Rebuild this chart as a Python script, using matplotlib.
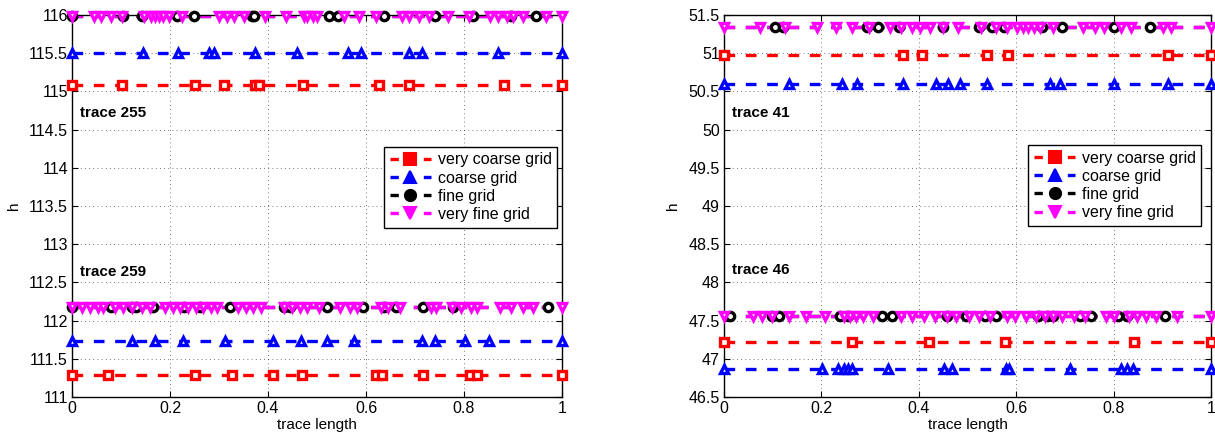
import matplotlib
matplotlib.use("Agg")
import matplotlib.pyplot as plt
import numpy as np

plt.rcParams["font.family"] = ["Liberation Sans", "DejaVu Sans"]

# ---------------------------------------------------------------------------
# data (x = normalised trace length, h levels)
# ---------------------------------------------------------------------------
LABELS = ["very coarse grid", "coarse grid", "fine grid", "very fine grid"]

# left panel, trace 255 (upper group)
h255 = [115.09, 115.50, 115.99, 115.99]
x255_vc = [0, 0.102, 0.25, 0.311, 0.374, 0.382, 0.472, 0.626, 0.687, 0.881, 1.0]
x255_c = [0, 0.144, 0.216, 0.28, 0.29, 0.374, 0.459, 0.563, 0.59, 0.688, 0.714, 0.869, 1.0]
x255_f = [0, 0.104, 0.143, 0.214, 0.249, 0.367, 0.371, 0.524, 0.543, 0.637, 0.740,
          0.818, 0.896, 0.947]
x255_vf = [0, 0.044, 0.060, 0.080, 0.102, 0.147, 0.162, 0.170, 0.178, 0.186, 0.198,
           0.225, 0.300, 0.316, 0.331, 0.351, 0.394, 0.437, 0.473, 0.480, 0.492, 0.500,
           0.555, 0.586, 0.621, 0.673, 0.688, 0.708, 0.728, 0.767, 0.810, 0.853, 0.869,
           0.888, 0.900, 0.920, 0.967, 1.0]

# left panel, trace 259 (lower group)
h259 = [111.29, 111.73, 112.18, 112.18]
x259_vc = [0, 0.074, 0.251, 0.327, 0.411, 0.469, 0.620, 0.633, 0.717, 0.812, 0.827, 1.0]
x259_c = [0, 0.123, 0.169, 0.227, 0.312, 0.411, 0.467, 0.521, 0.576, 0.714, 0.741,
          0.802, 0.851, 1.0]
x259_f = [0, 0.080, 0.123, 0.131, 0.166, 0.229, 0.261, 0.323, 0.433, 0.445, 0.520,
          0.594, 0.637, 0.661, 0.716, 0.778, 0.971]
x259_vf = [0, 0.021, 0.037, 0.053, 0.064, 0.088, 0.104, 0.123, 0.143, 0.159, 0.190,
           0.206, 0.221, 0.237, 0.253, 0.268, 0.284, 0.296, 0.339, 0.355, 0.370, 0.386,
           0.433, 0.449, 0.465, 0.480, 0.504, 0.547, 0.567, 0.582, 0.630, 0.645, 0.669,
           0.732, 0.743, 0.775, 0.794, 0.814, 0.826, 0.873, 0.896, 0.920, 0.940, 1.0]

# right panel, trace 41 (upper group)
h41 = [50.98, 50.60, 51.34, 51.34]
x41_vc = [0, 0.367, 0.406, 0.541, 0.584, 0.912, 1.0]
x41_c = [0, 0.133, 0.242, 0.273, 0.367, 0.435, 0.459, 0.484, 0.541, 0.670, 0.690,
         0.801, 0.912, 1.0]
x41_f = [0.105, 0.121, 0.293, 0.316, 0.359, 0.449, 0.523, 0.551, 0.574, 0.652, 0.695,
         0.801, 0.875]
x41_vf = [0, 0.074, 0.125, 0.191, 0.230, 0.262, 0.297, 0.340, 0.363, 0.387, 0.402,
          0.422, 0.449, 0.480, 0.527, 0.559, 0.582, 0.602, 0.613, 0.625, 0.637, 0.648,
          0.676, 0.738, 0.762, 0.781, 0.816, 0.836, 0.902, 0.918, 1.0]

# right panel, trace 46 (lower group)
h46 = [47.22, 46.87, 47.56, 47.56]
x46_vc = [0, 0.263, 0.42, 0.577, 0.841, 1.0]
x46_c = [0, 0.201, 0.234, 0.246, 0.254, 0.263, 0.336, 0.451, 0.469, 0.580, 0.586,
         0.711, 0.815, 0.828, 0.840, 1.0]
x46_f = [0.012, 0.098, 0.113, 0.238, 0.254, 0.324, 0.344, 0.457, 0.496, 0.535, 0.559,
         0.645, 0.664, 0.676, 0.730, 0.754, 0.809, 0.828, 0.906]
x46_vf = [0, 0.059, 0.078, 0.098, 0.133, 0.168, 0.207, 0.246, 0.258, 0.270, 0.285,
          0.305, 0.363, 0.387, 0.410, 0.434, 0.457, 0.477, 0.504, 0.523, 0.547, 0.582,
          0.598, 0.621, 0.641, 0.660, 0.676, 0.695, 0.719, 0.742, 0.785, 0.801, 0.832,
          0.848, 0.867, 0.887, 0.930, 1.0]

COLORS = ["#ff0000", "#0000ff", "#000000", "#ff00ff"]
MARKERS = ["s", "^", "o", "v"]
DASH = (3.2, 3.2)
LEG_FS = 11.5
LEG_HL = 2.6


def draw_group(ax, hs, xs_list):
    handles = []
    for i in range(4):
        xs = np.array(xs_list[i])
        ys = np.full(xs.shape, hs[i])
        ax.plot([0, 1], [hs[i], hs[i]], color=COLORS[i], ls="--", lw=2.4,
                dashes=DASH, zorder=2)
        ax.plot(xs, ys, ls="none", marker=MARKERS[i], ms=6, mfc="white",
                mec=COLORS[i], mew=2.4, zorder=3, clip_on=False)
        # legend handle: short dash - marker - short dash
        h, = ax.plot([], [], color=COLORS[i], ls="--", lw=2.4, dashes=(2.5, 7.5),
                     marker=MARKERS[i], ms=8, mfc=COLORS[i], mec=COLORS[i], mew=1.5,
                     label=LABELS[i])
        handles.append(h)
    return handles


fig = plt.figure(figsize=(12.15, 4.41), dpi=100)
ax1 = fig.add_axes([0.0593, 0.0998, 0.4033, 0.866])
ax2 = fig.add_axes([0.5959, 0.0998, 0.4008, 0.866])

panels = [
    (ax1, (111, 116), [(h255, [x255_vc, x255_c, x255_f, x255_vf]),
                       (h259, [x259_vc, x259_c, x259_f, x259_vf])],
     [("trace 255", 114.72), ("trace 259", 112.64)], (0.99, 0.655)),
    (ax2, (46.5, 51.5), [(h41, [x41_vc, x41_c, x41_f, x41_vf]),
                         (h46, [x46_vc, x46_c, x46_f, x46_vf])],
     [("trace 41", 50.22), ("trace 46", 48.16)], (0.98, 0.66)),
]

for ax, ylim, groups, texts, leg_anchor in panels:
    handles = None
    for hs, xs_list in groups:
        handles = draw_group(ax, hs, xs_list)
    ax.set_xlim(0, 1)
    ax.set_ylim(*ylim)
    ax.set_xticks(np.arange(0, 1.01, 0.2))
    ax.set_xticklabels(["0", "0.2", "0.4", "0.6", "0.8", "1"])
    yt = np.arange(ylim[0], ylim[1] + 0.01, 0.5)
    ax.set_yticks(yt)
    ax.set_yticklabels([f"{v:g}" for v in yt])
    ax.grid(True, color="k", ls=(0, (1, 4)), lw=0.6, alpha=0.7)
    ax.set_axisbelow(True)
    ax.tick_params(direction="in", top=True, right=True, labelsize=11.5,
                   length=4, width=0.8, pad=3)
    for s in ax.spines.values():
        s.set_linewidth(1.0)
    ax.set_xlabel("trace length", fontsize=11, labelpad=1)
    ax.set_ylabel("h", fontsize=11, labelpad=6)
    for txt, yy in texts:
        ax.text(0.016, yy, txt, fontsize=11, fontweight="bold", va="center",
                ha="left")
    leg = ax.legend(handles=handles, loc="upper right", bbox_to_anchor=leg_anchor,
                    fontsize=LEG_FS, frameon=True, fancybox=False, edgecolor="k",
                    framealpha=1, handlelength=LEG_HL, handletextpad=0.4,
                    borderpad=0.35, labelspacing=0.2, borderaxespad=0)
    leg.get_frame().set_linewidth(1.0)

fig.savefig("out.png", dpi=100)
